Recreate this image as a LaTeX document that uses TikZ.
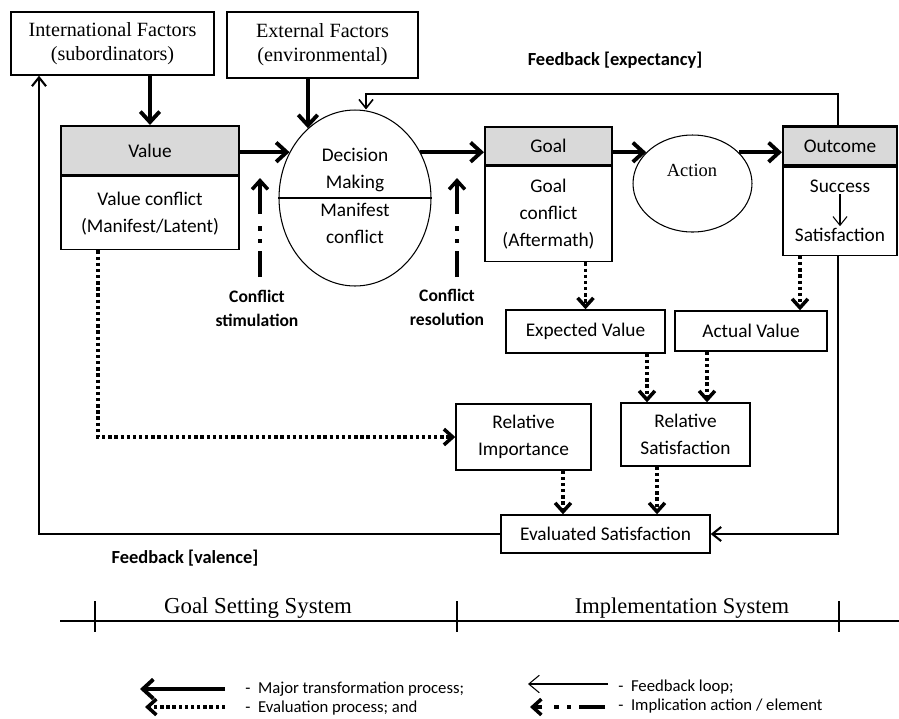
\documentclass[tikz,border=0pt]{standalone}
\usepackage{fontspec}
\setmainfont{Liberation Serif}
\setsansfont{Carlito}
\usetikzlibrary{arrows.meta,calc,shapes.geometric,positioning}
\definecolor{headgray}{RGB}{217,217,217}

\begin{document}
\begin{tikzpicture}[x=0.02cm,y=-0.02cm,
    txt/.style={font=\sffamily\fontsize{11}{15.5}\selectfont,align=center,inner sep=1pt},
    sertxt/.style={font=\fontsize{11.5}{13.8}\selectfont,align=center,inner sep=1pt},
    boldtxt/.style={font=\sffamily\bfseries\fontsize{10}{13.6}\selectfont,align=center,inner sep=1pt},
    legtxt/.style={font=\sffamily\fontsize{9.5}{11}\selectfont,anchor=west,inner sep=0pt},
    box/.style={draw,line width=0.8pt},
    headbox/.style={box,fill=headgray,line width=1.2pt},
    oval/.style={draw,ellipse,line width=0.6pt,inner sep=0pt},
    major/.style={line width=2.2pt,-{Straight Barb[length=6pt,width=11pt]}},
    evaluation/.style={line width=2pt,dash pattern=on 1.9pt off 1.6pt,
      -{Straight Barb[length=5pt,width=9pt]}},
    feedback/.style={line width=0.9pt,-{Straight Barb[length=5pt,width=8pt]}},
    implication/.style={line width=2pt,
      dash pattern=on 15pt off 4.5pt on 2.4pt off 4.5pt on 2.4pt off 7pt on 20pt off 2pt,
      -{Straight Barb[length=5pt,width=9pt]}}]
  \useasboundingbox (0,0) rectangle (899,718);

  % Column positions
  \def\xfb{838}     % feedback loop, right side
  \def\xleft{39}    % feedback loop, left side
  \def\xtop{366}    % feedback into decision
  \def\xdots{98}    % value -> relative importance

  % Factors
  \node[box,sertxt,minimum width=4.06cm,minimum height=1.26cm] (intl) at (112.5,43.5)
    {International Factors\\(subordinators)};
  \node[box,sertxt,minimum width=3.82cm,minimum height=1.32cm] (ext) at (322.5,45)
    {External Factors\\(environmental)};

  % Value
  \node[headbox,txt,minimum width=3.56cm,minimum height=0.98cm] (valh) at (150,150.5) {Value};
  \node[box,txt,minimum width=3.56cm,minimum height=1.46cm,below=0pt of valh] (valb)
    {Value conflict\\(Manifest/Latent)};

  % Decision making
  \node[oval,minimum width=3.04cm,minimum height=3.52cm] (decision) at (355,198) {};
  \draw[line width=0.6pt] (decision.west) -- (decision.east);
  \node[txt] (decup) at (355,170) {Decision\\Making};
  \node[txt] (declow) at (355,223.5) {Manifest\\conflict};

  % Goal
  \node[headbox,txt,minimum width=2.54cm,minimum height=0.76cm] (goalh) at (548.5,146) {Goal};
  \node[box,txt,minimum width=2.54cm,minimum height=1.9cm,below=0pt of goalh] (goalb)
    {Goal\\conflict\\(Aftermath)};

  % Action
  \node[oval,minimum width=2.38cm,minimum height=1.94cm] (action) at (692.5,183.5) {};
  \node[sertxt,font=\fontsize{10.5}{12}\selectfont] (actlbl) at (692,170) {Action};

  % Outcome
  \node[headbox,txt,minimum width=2.28cm,minimum height=0.78cm] (outh) at (840,146) {Outcome};
  \node[box,minimum width=2.28cm,minimum height=1.76cm,below=0pt of outh] (outb) {};
  \node[txt] (success) at (840,186) {Success};
  \node[txt] (satis) at (840,235) {Satisfaction};
  \draw[feedback,line width=0.6pt] (success) -- (satis);

  % Evaluation boxes
  \node[box,txt,minimum width=3.18cm,minimum height=0.86cm] (expval) at (585.5,331.5) {Expected Value};
  \node[box,txt,minimum width=3.04cm,minimum height=0.8cm] (actval) at (751,331) {Actual Value};
  \node[box,txt,minimum width=2.58cm,minimum height=1.26cm] (relsat) at (685.5,434.5)
    {Relative\\Satisfaction};
  \node[box,txt,minimum width=2.7cm,minimum height=1.32cm] (relimp) at (523.5,437)
    {Relative\\Importance};
  \node[box,txt,minimum width=4.18cm,minimum height=0.76cm] (evalsat) at (605.5,534)
    {Evaluated Satisfaction};

  % Labels
  \node[boldtxt] (stimlbl) at (257,308) {Conflict\\stimulation};
  \node[boldtxt] (reslbl) at (447,307) {Conflict\\resolution};
  \node[boldtxt,font=\sffamily\bfseries\fontsize{10.5}{12}\selectfont] (fbexp) at (615,60)
    {Feedback [expectancy]};
  \node[boldtxt,font=\sffamily\bfseries\fontsize{10.5}{12}\selectfont] (fbval) at (185,558)
    {Feedback [valence]};

  % Major transformation
  \draw[major] (valh.north |- intl.south) -- (valh.north);
  \draw[major] (ext.south -| decision.124) -- (decision.124);
  \draw[major] (valh.east |- decision.145) -- (decision.145);
  \draw[major] (decision.35) -- (decision.35 -| goalh.west);
  \draw[major] (goalh.east |- action.146) -- (action.146);
  \draw[major] (action.34) -- (action.34 -| outh.west);

  % Implication
  \coordinate (stimfoot) at (260,277);
  \coordinate (stimtip) at (260,178);
  \coordinate (resfoot) at (457,277);
  \coordinate (restip) at (457,178);
  \draw[implication] (stimfoot) -- (stimtip);
  \draw[implication] (resfoot) -- (restip);

  % Evaluation
  \draw[evaluation] (goalb.south -| expval.north) -- (expval.north);
  \draw[evaluation] (outb.south -| 800,0) -- (actval.north -| 800,0);
  \draw[evaluation] (expval.south -| 647,0) -- (relsat.north -| 647,0);
  \draw[evaluation] (actval.south -| 707,0) -- (relsat.north -| 707,0);
  \draw[evaluation] (relimp.south -| 563,0) -- (evalsat.north -| 563,0);
  \draw[evaluation] (relsat.south -| 657,0) -- (evalsat.north -| 657,0);
  \draw[evaluation] (valb.south -| \xdots,0) |- (relimp.west);

  % Feedback loops
  \draw[feedback] (outh.north -| \xfb,0) |- (\xtop,94) -- (decision.north -| \xtop,0);
  \draw[feedback,line width=1.2pt] (outb.south -| \xfb,0) |- (evalsat.east);
  \draw[feedback,line width=1.2pt] (evalsat.west) -| (intl.south -| \xleft,0);

  % Systems axis
  \draw[line width=0.7pt] (60,621) -- (899,621);
  \foreach \xt in {95,457,839}
    \draw[line width=0.7pt] (\xt,601) -- (\xt,632);
  \node[font=\fontsize{13}{15}\selectfont] (goalsys) at (258,608) {Goal Setting System};
  \node[font=\fontsize{12.8}{15}\selectfont] (implsys) at (682,608) {Implementation System};

  % Legend
  \coordinate (lgmajS) at (225,689);
  \coordinate (lgmajE) at (140,689);
  \coordinate (lgevaS) at (225,707);
  \coordinate (lgevaE) at (145,707);
  \coordinate (lgfbS) at (608,684);
  \coordinate (lgfbE) at (528,684);
  \coordinate (lgimS) at (605,707);
  \coordinate (lgimE) at (530,707);
  \draw[major] (lgmajS) -- (lgmajE);
  \draw[evaluation] (lgevaS) -- (lgevaE);
  \draw[feedback,line width=0.6pt,-{Straight Barb[length=6pt,width=10pt]}] (lgfbS) -- (lgfbE);
  \draw[implication] (lgimS) -- (lgimE);
  \node[legtxt] (lgmaj) at (245,689) {-\ \ Major transformation process;};
  \node[legtxt] (lgeva) at (245,708) {-\ \ Evaluation process; and};
  \node[legtxt] (lgfb) at (618,687) {-\ \ Feedback loop;};
  \node[legtxt] (lgim) at (618,706) {-\ \ Implication action / element};
\end{tikzpicture}
\end{document}
